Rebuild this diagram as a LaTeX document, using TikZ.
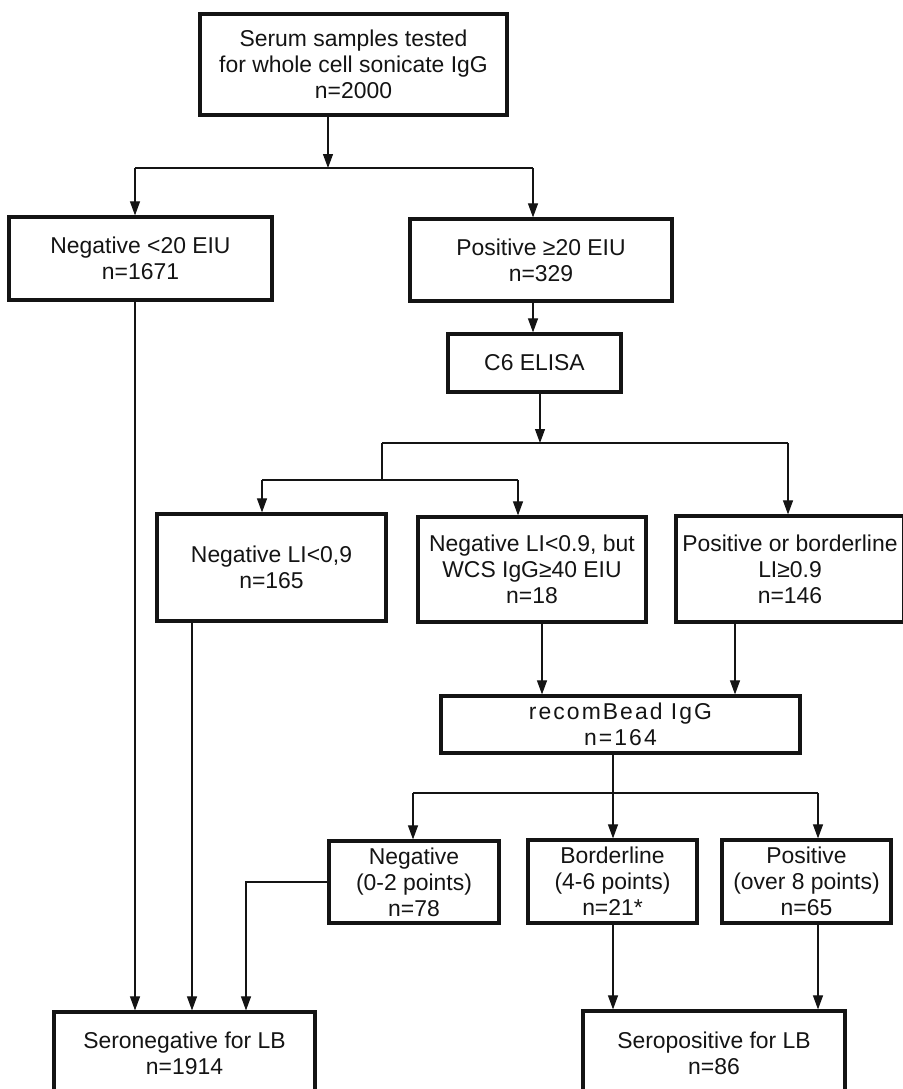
\documentclass[tikz,border=0pt]{standalone}
\usepackage{fontspec}
\setmainfont{Liberation Sans}
\usetikzlibrary{arrows.meta}
\definecolor{FcInk}{RGB}{20,20,20}
\tikzset{
  fc/box/.style={
    draw=FcInk,
    line width=3.2pt,
    fill=white,
    align=center,
    text=FcInk,
    inner sep=0pt,
    font=\fontsize{22.9}{26}\selectfont
  },
  fc/line/.style={draw=FcInk, line width=1.1pt},
  fc/arrow/.style={fc/line, -{Triangle[length=14pt,width=10pt]}},
  fc/spaced/.style={font=\fontsize{22.9}{26}\selectfont\addfontfeature{LetterSpace=9}}
}

\begin{document}
\begin{tikzpicture}[x=1pt,y=-1pt]
  \useasboundingbox (0,0) rectangle (902,1089);

  % boxes
  \node[fc/box,minimum width=307pt,minimum height=101pt] (top) at (353.5,64.5)
    {Serum samples tested\\for whole cell sonicate IgG\\n=2000};
  \node[fc/box,minimum width=263pt,minimum height=83pt] (neg20) at (140.5,258.5)
    {Negative <20 EIU\\n=1671};
  \node[fc/box,minimum width=262pt,minimum height=82pt] (pos20) at (541,260)
    {Positive ≥20 EIU\\n=329};
  \node[fc/box,minimum width=173pt,minimum height=58pt] (c6) at (534.5,363) {C6 ELISA};
  \node[fc/box,minimum width=229pt,minimum height=107pt] (negLI) at (271.5,567.5)
    {Negative LI<0,9\\n=165};
  \node[fc/box,minimum width=228pt,minimum height=105pt] (negWCS) at (532,569.5)
    {Negative LI<0.9, but\\WCS IgG≥40 EIU\\n=18};
  \node[fc/box,minimum width=228pt,minimum height=106pt] (posLI) at (790,569)
    {Positive or borderline\\LI≥0.9\\n=146};
  \node[fc/box,fc/spaced,minimum width=359pt,minimum height=57pt] (bead) at (620.5,724.5)
    {recomBead IgG\\n=164};
  \node[fc/box,minimum width=170pt,minimum height=82pt] (negP) at (414,882)
    {Negative\\(0-2 points)\\n=78};
  \node[fc/box,minimum width=169pt,minimum height=83pt] (bordP) at (612.5,881.5)
    {Borderline\\(4-6 points)\\n=21*};
  \node[fc/box,minimum width=169pt,minimum height=83pt] (posP) at (806.5,881.5)
    {Positive\\(over 8 points)\\n=65};
  \node[fc/box,minimum width=261pt,minimum height=83pt] (seroneg) at (184.5,1053.5)
    {Seronegative for LB\\n=1914};
  \node[fc/box,minimum width=262pt,minimum height=84pt] (seropos) at (714,1053)
    {Seropositive for LB\\n=86};

  % junctions
  \coordinate (split1) at (328,168);
  \coordinate (split1l) at (135,168);
  \coordinate (split1r) at (533,168);
  \coordinate (split2) at (540,443);
  \coordinate (split2l) at (382,443);
  \coordinate (split2r) at (788,443);
  \coordinate (split3l) at (262,480);
  \coordinate (split3r) at (518,480);
  \coordinate (split4) at (613,793);
  \coordinate (split4l) at (413,793);
  \coordinate (split4r) at (818,793);
  \coordinate (negLIdrop) at (192,0);
  \coordinate (negWCSdrop) at (542,0);
  \coordinate (posLIdrop) at (735,0);
  \coordinate (negPbend) at (246,0);

  % connectors
  \draw[fc/arrow] (top.south -| split1) -- (split1);
  \draw[fc/line] (split1l) -- (split1r);
  \draw[fc/arrow] (split1l) -- (split1l |- neg20.north);
  \draw[fc/arrow] (split1r) -- (split1r |- pos20.north);
  \draw[fc/arrow] (pos20.south -| split1r) -- (c6.north -| split1r);
  \draw[fc/arrow] (c6.south -| split2) -- (split2);
  \draw[fc/line] (split2l) -- (split2r);
  \draw[fc/line] (split2l) |- (split3l);
  \draw[fc/line] (split3l) -- (split3r);
  \draw[fc/arrow] (split3l) -- (split3l |- negLI.north);
  \draw[fc/arrow] (split3r) -- (split3r |- negWCS.north);
  \draw[fc/arrow] (split2r) -- (split2r |- posLI.north);
  \draw[fc/arrow] (neg20.south -| split1l) -- (seroneg.north -| split1l);
  \draw[fc/arrow] (negLI.south -| negLIdrop) -- (seroneg.north -| negLIdrop);
  \draw[fc/arrow] (negWCS.south -| negWCSdrop) -- (bead.north -| negWCSdrop);
  \draw[fc/arrow] (posLI.south -| posLIdrop) -- (bead.north -| posLIdrop);
  \draw[fc/arrow] (bead.south -| split4) -- (bordP.north -| split4);
  \draw[fc/line] (split4l) -- (split4r);
  \draw[fc/arrow] (split4l) -- (split4l |- negP.north);
  \draw[fc/arrow] (split4r) -- (split4r |- posP.north);
  \draw[fc/arrow] (negP.west) -| (seroneg.north -| negPbend);
  \draw[fc/arrow] (bordP.south -| split4) -- (seropos.north -| split4);
  \draw[fc/arrow] (posP.south -| split4r) -- (seropos.north -| split4r);
\end{tikzpicture}
\end{document}
